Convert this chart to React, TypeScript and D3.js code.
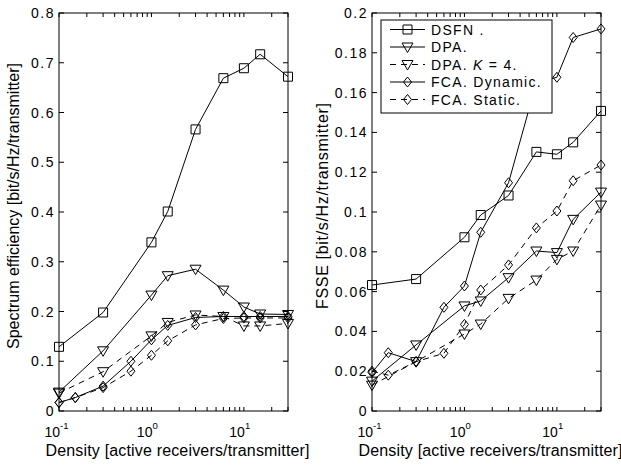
import React from "react";
import * as d3 from "d3";

const densityFCA = [0.1, 0.15, 0.3, 0.6, 1, 1.5, 3, 6, 10, 15, 30];
const densityOther = [0.1, 0.3, 1, 1.5, 3, 6, 10, 15, 30];

// Left panel: Spectrum efficiency
const seDSFN = [0.129, 0.198, 0.339, 0.401, 0.566, 0.669, 0.689, 0.717, 0.672];
const seDPA = [0.038, 0.121, 0.233, 0.272, 0.285, 0.243, 0.209, 0.195, 0.194];
const seDPAK4 = [0.036, 0.079, 0.151, 0.178, 0.193, 0.19, 0.171, 0.171, 0.176];
const seFCADyn = [0.017, 0.027, 0.05, 0.1, 0.143, 0.172, 0.188, 0.19, 0.19, 0.19, 0.19];
const seFCAStat = [0.017, 0.027, 0.047, 0.08, 0.112, 0.141, 0.173, 0.186, 0.187, 0.187, 0.187];

// Right panel: FSSE
const fsDSFN = [0.0633, 0.0663, 0.0873, 0.0985, 0.1083, 0.1302, 0.129, 0.135, 0.1508];
const fsDPA = [0.015, 0.0332, 0.0528, 0.0553, 0.067, 0.0804, 0.0796, 0.0963, 0.11];
const fsDPAK4 = [0.013, 0.0248, 0.0387, 0.0437, 0.0566, 0.0658, 0.0762, 0.0804, 0.1035];
const fsFCADyn = [0.0193, 0.0293, 0.0248, 0.0521, 0.0628, 0.0898, 0.1147, 0.165, 0.1677, 0.1877, 0.192];
const fsFCAStat = [0.02, 0.018, 0.0248, 0.029, 0.0435, 0.0608, 0.0734, 0.092, 0.1005, 0.1157, 0.1236];

const leftYTicks = [0, 0.1, 0.2, 0.3, 0.4, 0.5, 0.6, 0.7, 0.8];
const rightYTicks = [0, 0.02, 0.04, 0.06, 0.08, 0.1, 0.12, 0.14, 0.16, 0.18, 0.2];
const xDecades = [0.1, 1, 10];
const xDecadeExp = ["-1", "0", "1"];

const legendLabels = ["DSFN .", "DPA.", "DPA. K = 4.", "FCA. Dynamic.", "FCA.  Static."];

const FONT = "'Liberation Sans', Arial, Helvetica, sans-serif";

type Marker = "square" | "tri" | "diamond";

function markerPath(m: Marker): string {
  if (m === "square") return "M-4.5,-4.5H4.5V4.5H-4.5Z";
  if (m === "tri") return "M-5.5,-4L5.5,-4L0,5.5Z";
  return "M0,-5L4,0L0,5L-4,0Z";
}

const seriesStyle: { marker: Marker; dash: string | null }[] = [
  { marker: "square", dash: null },
  { marker: "tri", dash: null },
  { marker: "tri", dash: "6,5" },
  { marker: "diamond", dash: null },
  { marker: "diamond", dash: "6,5" },
];

interface PanelProps {
  x0: number;
  x1: number;
  y0: number;
  y1: number;
  yMax: number;
  yTicks: number[];
  series: number[][];
  yLabel: string;
  yLabelX: number;
  yLabelLen: number;
  legend?: boolean;
}

function Panel(p: PanelProps) {
  const xs = d3.scaleLog().domain([0.1, 30]).range([p.x0, p.x1]);
  const ys = d3.scaleLinear().domain([0, p.yMax]).range([p.y1, p.y0]);
  const minor: number[] = [];
  for (const dec of [0.1, 1, 10]) {
    for (let k = 1; k <= 9; k++) {
      const v = dec * k;
      if (v <= 30) minor.push(v);
    }
  }
  const xsFor = (i: number) => (i === 0 || i === 3 || i === 4 ? (i === 0 ? densityOther : densityFCA) : densityOther);
  const line = d3
    .line<[number, number]>()
    .x((d) => xs(d[0]))
    .y((d) => ys(d[1]));
  const fmt = (v: number) => (v === 0 ? "0" : String(+v.toFixed(2)));
  const order = [4, 3, 2, 1, 0];
  return (
    <g>
      {/* ticks */}
      {p.yTicks.map((t) => (
        <g key={"yt" + t}>
          <line x1={p.x0} x2={p.x0 + 5} y1={ys(t)} y2={ys(t)} stroke="#000" />
          <line x1={p.x1} x2={p.x1 - 5} y1={ys(t)} y2={ys(t)} stroke="#000" />
          <text
            x={p.x0 - 4}
            y={ys(t)}
            dy="0.36em"
            textAnchor="end"
            fontSize={14}
            letterSpacing={1.5}
            fontFamily={FONT}
          >
            {fmt(t)}
          </text>
        </g>
      ))}
      {minor.map((t) => (
        <g key={"xt" + t}>
          <line x1={xs(t)} x2={xs(t)} y1={p.y1} y2={p.y1 - 4} stroke="#000" />
          <line x1={xs(t)} x2={xs(t)} y1={p.y0} y2={p.y0 + 4} stroke="#000" />
        </g>
      ))}
      {xDecades.map((t, i) => (
        <g key={"xl" + t} fontFamily={FONT}>
          <text x={xs(t) + 1} y={437} textAnchor="end" fontSize={14}>
            10
          </text>
          <text x={xs(t) + 1} y={429} textAnchor="start" fontSize={9.5}>
            {xDecadeExp[i]}
          </text>
        </g>
      ))}
      {/* series */}
      {order.map((i) => {
        const xv = i >= 3 ? densityFCA : densityOther;
        const pts = xv.map((x, j) => [x, p.series[i][j]] as [number, number]);
        const st = seriesStyle[i];
        return (
          <g key={"s" + i}>
            <path
              d={line(pts) || ""}
              fill="none"
              stroke="#000"
              strokeWidth={1}
              strokeDasharray={st.dash || undefined}
            />
            {pts.map((d, j) => (
              <path
                key={j}
                d={markerPath(st.marker)}
                transform={`translate(${xs(d[0])},${ys(d[1])})`}
                fill="none"
                stroke="#000"
                strokeWidth={1}
              />
            ))}
          </g>
        );
      })}
      {/* frame */}
      <rect
        x={p.x0}
        y={p.y0}
        width={p.x1 - p.x0}
        height={p.y1 - p.y0}
        fill="none"
        stroke="#000"
        strokeWidth={1}
      />
      <text
        x={(p.x0 + p.x1) / 2 + 4}
        y={456}
        textAnchor="middle"
        fontSize={16}
        fontFamily={FONT}
        textLength={264}
        lengthAdjust="spacing"
      >
        Density [active receivers/transmitter]
      </text>
      <text
        transform={`translate(${p.yLabelX},${(p.y0 + p.y1) / 2 - 6}) rotate(-90)`}
        textAnchor="middle"
        fontSize={16}
        fontFamily={FONT}
        textLength={p.yLabelLen}
        lengthAdjust="spacing"
      >
        {p.yLabel}
      </text>
      {p.legend && (
        <g fontFamily={FONT}>
          <rect x={381} y={20} width={171} height={93} fill="#fff" stroke="#000" />
          {legendLabels.map((lab, i) => {
            const y = 29.5 + i * 17.5;
            const st = seriesStyle[i];
            return (
              <g key={"lg" + i}>
                <line
                  x1={390}
                  x2={425}
                  y1={y}
                  y2={y}
                  stroke="#000"
                  strokeDasharray={st.dash || undefined}
                />
                <path
                  d={markerPath(st.marker)}
                  transform={`translate(407.5,${y})`}
                  fill="none"
                  stroke="#000"
                />
                <text x={431} y={y} dy="0.36em" fontSize={14} letterSpacing={1.3}>
                  {i === 2 ? (
                    <>
                      DPA. <tspan fontStyle="italic">K</tspan> = 4.
                    </>
                  ) : (
                    lab
                  )}
                </text>
              </g>
            );
          })}
        </g>
      )}
    </g>
  );
}

export default function App() {
  return (
    <div style={{ position: "absolute", left: 0, top: 0 }}>
      <svg width={621} height={468} style={{ display: "block", background: "#fff" }}>
        <rect width={621} height={468} fill="#fff" />
        <Panel
          x0={59}
          x1={288}
          y0={13}
          y1={411}
          yMax={0.8}
          yTicks={leftYTicks}
          series={[seDSFN, seDPA, seDPAK4, seFCADyn, seFCAStat]}
          yLabel="Spectrum efficiency [bit/s/Hz/transmitter]"
          yLabelX={19}
          yLabelLen={286}
        />
        <Panel
          x0={372}
          x1={601}
          y0={13}
          y1={411}
          yMax={0.2}
          yTicks={rightYTicks}
          series={[fsDSFN, fsDPA, fsDPAK4, fsFCADyn, fsFCAStat]}
          yLabel="FSSE [bit/s/Hz/transmitter]"
          yLabelX={328}
          yLabelLen={206}
          legend
        />
      </svg>
    </div>
  );
}
